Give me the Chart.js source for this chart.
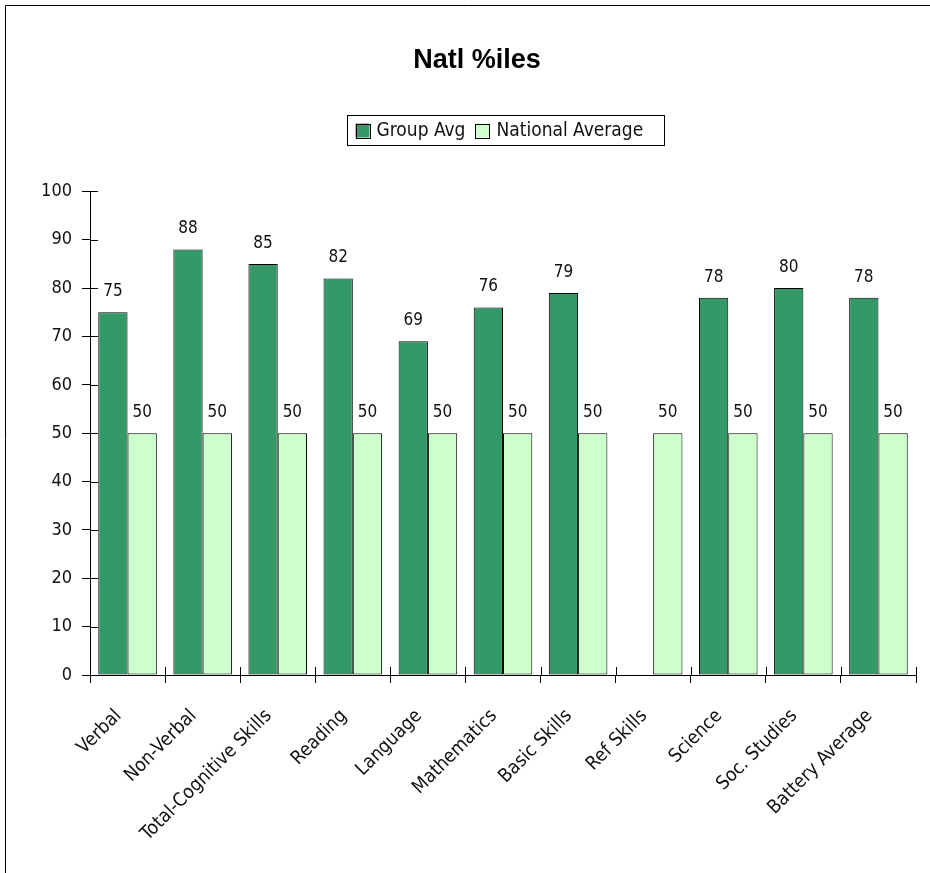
<!DOCTYPE html>
<html>
<head>
<meta charset="utf-8">
<script src="https://cdn.jsdelivr.net/npm/chart.js@4.4.1/dist/chart.umd.min.js"></script>
<style>
  html, body { margin: 0; padding: 0; background: #fff; }
  #wrap { position: absolute; left: 0; top: 0; width: 930px; height: 873px; }
</style>
</head>
<body>
<div id="wrap"><canvas id="c"></canvas></div>
<script>
// chart values
const categories = ['Verbal', 'Non-Verbal', 'Total-Cognitive Skills', 'Reading', 'Language',
  'Mathematics', 'Basic Skills', 'Ref Skills', 'Science', 'Soc. Studies', 'Battery Average'];
const groupAvg = [75, 88, 85, 82, 69, 76, 79, null, 78, 80, 78];
const nationalAvg = [50, 50, 50, 50, 50, 50, 50, 50, 50, 50, 50];
const yTicks = [0, 10, 20, 30, 40, 50, 60, 70, 80, 90, 100];

const FONT = "'DejaVu Sans Condensed', 'Liberation Sans Narrow', Arial, sans-serif";
const colors = ['#339966', '#CCFFCC'];

// frame around the whole chart, boxed legend, ticks crossing the axes
const decorPlugin = {
  id: 'decor',
  afterDraw(chart) {
    const ctx = chart.ctx;
    const area = chart.chartArea;
    ctx.save();
    ctx.strokeStyle = '#000';
    ctx.lineWidth = 1;
    ctx.beginPath();
    ctx.moveTo(5.5, 873);
    ctx.lineTo(5.5, 5.5);
    ctx.lineTo(930, 5.5);
    ctx.stroke();

    // inner half of tick marks
    const ys = chart.scales.y;
    ctx.beginPath();
    yTicks.forEach(v => {
      const py = Math.round(ys.getPixelForValue(v)) + 0.5;
      ctx.moveTo(area.left, py);
      ctx.lineTo(area.left + 8, py);
    });
    const step = (area.right - area.left) / categories.length;
    for (let i = 0; i <= categories.length; i++) {
      const px = Math.round(area.left + i * step) + 0.5;
      ctx.moveTo(px, area.bottom);
      ctx.lineTo(px, area.bottom - 8);
    }
    ctx.stroke();

    // legend
    ctx.font = '19px ' + FONT;
    ctx.textBaseline = 'middle';
    ctx.textAlign = 'left';
    const box = { x: 347.5, y: 115.5, w: 317, h: 30 };
    ctx.strokeRect(box.x, box.y, box.w, box.h);
    const sw = 14, gap = 7, itemGap = 10;
    const items = chart.data.datasets.map(d => d.label);
    const widths = items.map(t => ctx.measureText(t).width);
    let x = box.x + 8;
    const cy = box.y + box.h / 2;
    items.forEach((t, i) => {
      ctx.fillStyle = colors[i];
      ctx.fillRect(x, cy - sw / 2, sw, sw);
      ctx.strokeRect(Math.round(x) + 0.5, Math.round(cy - sw / 2) + 0.5, sw, sw);
      x += sw + gap;
      ctx.fillStyle = '#111';
      ctx.fillText(t, x, cy + 1);
      x += widths[i] + itemGap;
    });
    ctx.restore();
  }
};

// value labels above bars
const valueLabels = {
  id: 'valueLabels',
  afterDatasetsDraw(chart) {
    const ctx = chart.ctx;
    ctx.save();
    ctx.fillStyle = '#111';
    ctx.font = '17px ' + FONT;
    ctx.textAlign = 'center';
    ctx.textBaseline = 'bottom';
    chart.data.datasets.forEach((ds, i) => {
      chart.getDatasetMeta(i).data.forEach((bar, j) => {
        const v = ds.data[j];
        if (v == null) return;
        ctx.fillText(v, bar.x, bar.y - 12);
      });
    });
    ctx.restore();
  }
};

new Chart(document.getElementById('c'), {
  type: 'bar',
  data: {
    labels: categories,
    datasets: [{
      label: 'Group Avg',
      data: groupAvg,
      backgroundColor: colors[0],
      borderColor: '#000',
      borderWidth: 1,
      borderSkipped: false,
      categoryPercentage: 0.78,
      barPercentage: 1
    }, {
      label: 'National Average',
      data: nationalAvg,
      backgroundColor: colors[1],
      borderColor: '#000',
      borderWidth: 1,
      borderSkipped: false,
      categoryPercentage: 0.78,
      barPercentage: 1
    }]
  },
  options: {
    responsive: true,
    maintainAspectRatio: false,
    animation: false,
    layout: { padding: { left: 38, right: 14, top: 0, bottom: 0 } },
    plugins: {
      title: {
        display: true,
        text: 'Natl %iles',
        color: '#000',
        font: { family: 'Arial, Liberation Sans, sans-serif', size: 27, weight: 'bold' },
        padding: { top: 44, bottom: 115 }
      },
      legend: { display: false },
      tooltip: { enabled: false }
    },
    scales: {
      x: {
        grid: { drawOnChartArea: false, color: '#000', tickLength: 8, offset: true },
        border: { color: '#000' },
        ticks: {
          color: '#111',
          font: { family: FONT, size: 19 },
          maxRotation: 45,
          minRotation: 45,
          padding: 22,
          labelOffset: -9
        },
        afterFit(s) { s.height = 198; }
      },
      y: {
        min: 0,
        max: 100,
        afterBuildTicks(s) { s.ticks = yTicks.map(v => ({ value: v })); },
        grid: { drawOnChartArea: false, color: '#000', tickLength: 8 },
        border: { color: '#000' },
        ticks: {
          color: '#111',
          font: { family: FONT, size: 18 },
          padding: 10
        },
        afterFit(s) { s.width = 52; }
      }
    }
  },
  plugins: [decorPlugin, valueLabels]
});
</script>
</body>
</html>
